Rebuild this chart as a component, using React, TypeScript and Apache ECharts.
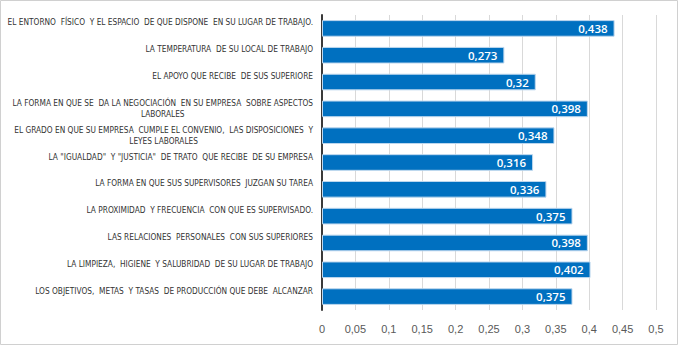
import React, { useEffect, useRef } from "react";
import * as echarts from "echarts";

const categories: string[] = [
  "EL ENTORNO  FÍSICO  Y EL ESPACIO  DE QUE DISPONE  EN SU LUGAR DE TRABAJO.",
  "LA TEMPERATURA  DE SU LOCAL DE TRABAJO",
  "EL APOYO QUE RECIBE  DE SUS SUPERIORE",
  "LA FORMA EN QUE SE  DA LA NEGOCIACIÓN  EN SU EMPRESA  SOBRE ASPECTOS\nLABORALES",
  "EL GRADO EN QUE SU EMPRESA  CUMPLE EL CONVENIO,  LAS DISPOSICIONES  Y\nLEYES LABORALES",
  "LA \"IGUALDAD\"  Y \"JUSTICIA\"  DE TRATO  QUE RECIBE  DE SU EMPRESA",
  "LA FORMA EN QUE SUS SUPERVISORES  JUZGAN SU TAREA",
  "LA PROXIMIDAD  Y FRECUENCIA  CON QUE ES SUPERVISADO.",
  "LAS RELACIONES  PERSONALES  CON SUS SUPERIORES",
  "LA LIMPIEZA,  HIGIENE  Y SALUBRIDAD  DE SU LUGAR DE TRABAJO",
  "LOS OBJETIVOS,  METAS  Y TASAS  DE PRODUCCIÓN QUE DEBE  ALCANZAR",
];

const values: number[] = [0.438, 0.273, 0.32, 0.398, 0.348, 0.316, 0.336, 0.375, 0.398, 0.402, 0.375];

const xMin = 0;
const xMax = 0.5;
const xStep = 0.05;

const labelFont = "'Liberation Sans Narrow', 'DejaVu Sans Condensed', 'Liberation Sans', sans-serif";

export default function App() {
  const ref = useRef<HTMLDivElement>(null);
  useEffect(() => {
    if (!ref.current) return;
    const chart = echarts.init(ref.current, undefined, { renderer: "svg" });
    const tok = { fontFamily: labelFont, fontSize: 8.25, color: "#333333", lineHeight: 11 };
    chart.setOption({
      animation: false,
      backgroundColor: "#ffffff",
      graphic: [
        {
          type: "rect",
          shape: { x: 0.5, y: 0.5, width: 677, height: 344 },
          style: { fill: "none", stroke: "#d0d0d0", lineWidth: 1 },
          silent: true,
        },
      ],
      grid: { left: 322, right: 22, top: 15, bottom: 35, containLabel: false },
      xAxis: {
        type: "value",
        min: xMin,
        max: xMax,
        interval: xStep,
        axisLine: { show: false },
        axisTick: { show: false },
        splitLine: { show: true, lineStyle: { color: "#d9d9d9", width: 1 } },
        axisLabel: {
          margin: 13,
          color: "#595959",
          fontSize: 11,
          fontFamily: "'Liberation Sans', sans-serif",
          formatter: (v: number) => String(Math.round(v * 1000) / 1000).replace(".", ","),
        },
      },
      yAxis: {
        type: "category",
        inverse: true,
        data: categories,
        axisTick: { show: false },
        axisLine: { show: true, lineStyle: { color: "#3a3a3a", width: 2 } },
        axisLabel: {
          margin: 9,
          interval: 0,
          formatter: (value: string) => {
            const parts = value.split("\n");
            if (parts.length === 2) return `{a|${parts[0]}}\n{c|${parts[1]}}`;
            return `{s|${value}}`;
          },
          rich: {
            a: { ...tok },
            c: { ...tok, align: "center" },
            s: { ...tok, padding: [0, 0, 12, 0] },
          },
        },
      },
      series: [
        {
          type: "bar",
          data: values,
          barWidth: "62%",
          itemStyle: { color: "#0070C0", borderColor: "#bdd7ee", borderWidth: 1 },
          label: {
            show: true,
            position: "insideRight",
            distance: 7,
            color: "#ffffff",
            fontSize: 11.5,
            fontFamily: "'Open Sans', sans-serif",
            fontWeight: 600,
            formatter: (p: any) => String(p.value).replace(".", ","),
          },
        },
      ],
    });
    return () => chart.dispose();
  }, []);
  return (
    <div
      ref={ref}
      style={{ position: "fixed", left: 0, top: 0, width: 678, height: 345 }}
    />
  );
}
